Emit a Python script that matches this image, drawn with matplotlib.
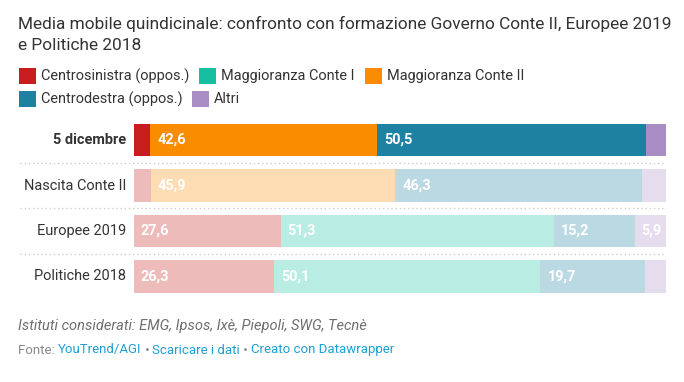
import matplotlib
matplotlib.use("Agg")
import matplotlib.pyplot as plt
from matplotlib.patches import Rectangle
from matplotlib.transforms import blended_transform_factory
import matplotlib.colors as mcolors

plt.rcParams['font.family'] = ['Roboto', 'DejaVu Sans']

# ---- data ----
rows = ["5 dicembre", "Nascita Conte II", "Europee 2019", "Politiche 2018"]
series = ["Centrosinistra (oppos.)", "Maggioranza Conte I", "Maggioranza Conte II",
          "Centrodestra (oppos.)", "Altri"]
# segments per row: (series index, value, show label)
seg_series = [[0, 2, 3, 4], [0, 2, 3, 4], [0, 1, 3, 4], [0, 1, 3, 4]]
seg_values = [[3.1, 42.6, 50.5, 3.8],
              [3.2, 45.9, 46.3, 4.6],
              [27.6, 51.3, 15.2, 5.9],
              [26.3, 50.1, 19.7, 3.9]]
seg_labels = [[False, True, True, False],
              [False, True, True, False],
              [True, True, True, True],
              [True, True, True, False]]
highlight = [True, False, False, False]
colors = ["#c71e1d", "#15bfa0", "#fa8c00", "#1d81a2", "#a98ec6"]

W, H = 684, 382
fig = plt.figure(figsize=(W / 100, H / 100), dpi=100)
fig.patch.set_facecolor("white")

def fx(px):
    return px / W

def fy(py):
    return 1 - py / H

def pt(px):
    return px * 0.72

# title
fig.text(fx(18), fy(24), "Media mobile quindicinale: confronto con formazione Governo Conte II, Europee 2019",
         fontsize=pt(17.3), color="#333333", va="center", ha="left")
fig.text(fx(18), fy(46), "e Politiche 2018",
         fontsize=pt(17.3), color="#333333", va="center", ha="left")

# legend
leg_pos = [(19, 76), (199, 76), (365, 76), (19, 99), (192, 99)]
for i, (lx, ly) in enumerate(leg_pos):
    fig.patches.append(Rectangle((fx(lx), fy(ly + 8)), 17 / W, 16 / H,
                                 transform=fig.transFigure, color=colors[i], lw=0))
    fig.text(fx(lx + 22), fy(ly), series[i], fontsize=pt(14.5), color="#333333",
             va="center", ha="left")

# bars axes
row_top = 140 - 22.75
row_bot = 276.5 + 22.75
ax = fig.add_axes([fx(134), fy(row_bot), (666 - 134) / W, (row_bot - row_top) / H])
ax.set_xlim(0, 100)
ax.set_ylim(len(rows) - 0.5, -0.5)
ax.axis("off")

white = mcolors.to_rgb("white")
for r in range(len(rows)):
    left = 0
    for s, v, lab in zip(seg_series[r], seg_values[r], seg_labels[r]):
        c = mcolors.to_rgb(colors[s])
        if not highlight[r]:
            a = 0.3
            c = tuple(a * ci + (1 - a) * wi for ci, wi in zip(c, white))
        ax.barh(r, v, left=left, height=0.71, color=c, lw=0)
        if lab:
            ax.text(left + 1.3, r, f"{v:.1f}".replace(".", ","), color="white",
                    fontsize=pt(14.5), fontweight="bold", va="center", ha="left")
        left += v
    ax.text(-1.5, r, rows[r], ha="right", va="center", fontsize=pt(14.5), color="#333333",
            fontweight="bold" if highlight[r] else "normal")

# dotted separators
tr = blended_transform_factory(fig.transFigure, ax.transData)
for r in range(len(rows) - 1):
    ax.plot([fx(20), fx(666)], [r + 0.5, r + 0.5], transform=tr, color="#cccccc",
            lw=1, ls=(0, (1, 2)), clip_on=False)

# footer
fig.text(fx(18), fy(326), "Istituti considerati: EMG, Ipsos, Ixè, Piepoli, SWG, Tecnè",
         fontsize=pt(14.6), color="#6e6e6e", style="italic", va="center", ha="left")
parts = [("Fonte: ", "#888888"), ("YouTrend/AGI", "#1d9fd6"), (" • ", "#888888"),
         ("Scaricare i dati", "#1d9fd6"), (" • ", "#888888"), ("Creato con Datawrapper", "#1d9fd6")]
fig.canvas.draw()
renderer = fig.canvas.get_renderer()
x = fx(18)
for txt, col in parts:
    t = fig.text(x, fy(350), txt, fontsize=pt(13.3), color=col, va="center", ha="left")
    bb = t.get_window_extent(renderer=renderer)
    x += bb.width / W

fig.savefig("out.png", dpi=100, facecolor="white")
